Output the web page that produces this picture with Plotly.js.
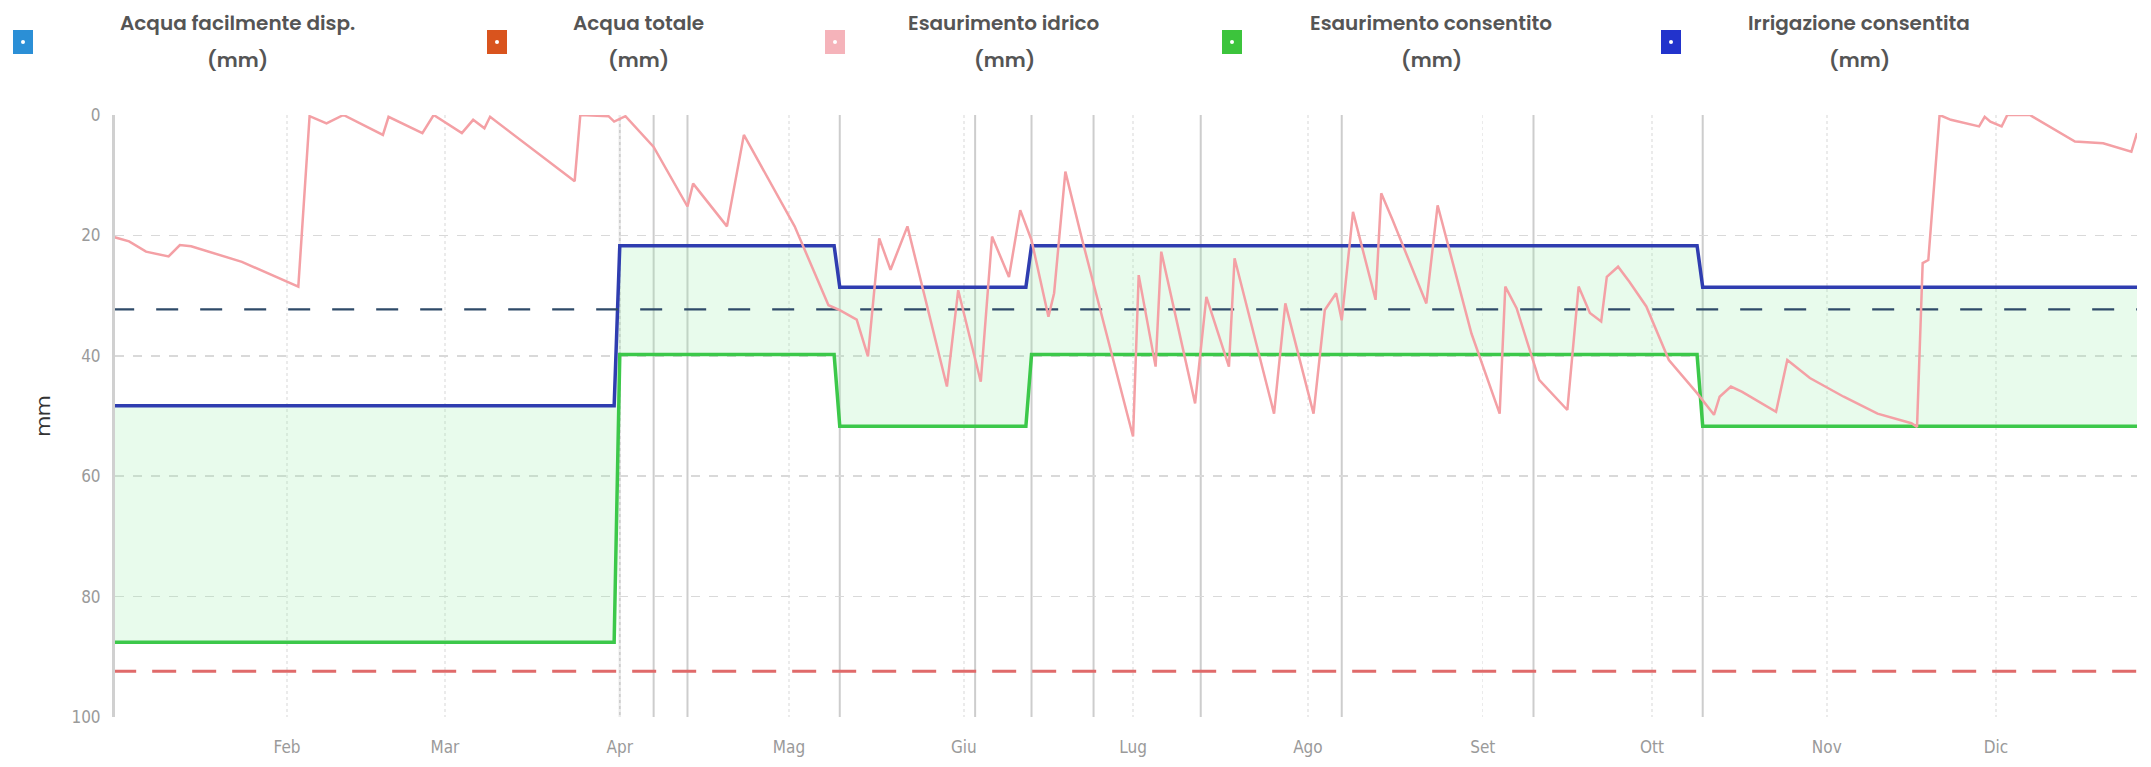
<!DOCTYPE html>
<html>
<head>
<meta charset="utf-8">
<script src="https://cdn.plot.ly/plotly-3.0.1.min.js"></script>
<style>
html,body{margin:0;padding:0;background:#ffffff;}
#chart{width:2151px;height:767px;}
</style>
</head>
<body>
<div id="chart"></div>
<script>
// ---------------- DATA ----------------
const YEAR = '2023';
const startDate = '01-01 12:00';
const endDate = '12-26';

const monthTickDates  = ['02-01','03-01','04-01','05-01','06-01','07-01','08-01','09-01','10-01','11-01','12-01'];
const monthTickLabels = ['Feb','Mar','Apr','Mag','Giu','Lug','Ago','Set','Ott','Nov','Dic'];

// Esaurimento idrico (mm) – vertices
const depletionDates = [
  '01-01','01-04','01-07','01-11','01-13','01-15','01-24','02-03','02-05','02-08',
  '02-11','02-18','02-19','02-25','02-27','03-04','03-06','03-08','03-09','03-24',
  '03-25','03-30','03-31','04-02','04-07','04-13','04-14','04-20','04-23','05-02',
  '05-08','05-10','05-13','05-15','05-17','05-19','05-22','05-29','05-31','06-04',
  '06-06','06-09','06-11','06-13','06-16','06-17','06-19','06-22','07-01','07-02',
  '07-05','07-06','07-12','07-14','07-18','07-19','07-26','07-28','08-02','08-04',
  '08-06','08-07','08-09','08-13','08-14','08-16','08-22','08-24','08-30','09-04',
  '09-05','09-07','09-11','09-16','09-18','09-20','09-22','09-23','09-25','09-27',
  '09-30','10-04','10-09','10-12','10-13','10-15','10-17','10-23','10-25','10-29',
  '11-04','11-10','11-16','11-17','11-18','11-19','11-21','11-23','11-28','11-29',
  '11-30','12-02','12-03','12-07','12-15','12-20','12-25','12-26'
];
const depletionValues = [
  20.2, 21.0, 22.7, 23.5, 21.6, 21.8, 24.4, 28.5, 0.2, 1.4,
  0.0, 3.3, 0.3, 3.0, 0.0, 3.0, 0.8, 2.2, 0.3, 11.0,
  0.0, 0.2, 1.1, 0.2, 5.3, 15.2, 11.4, 18.5, 3.3, 18.5,
  31.6, 32.4, 34.0, 40.1, 20.5, 25.7, 18.5, 45.1, 29.1, 44.3,
  20.2, 26.9, 15.8, 20.8, 33.5, 29.6, 9.4, 20.8, 53.4, 26.6,
  41.8, 22.7, 47.9, 30.2, 41.8, 23.8, 49.6, 31.3, 49.6, 32.4,
  29.6, 34.1, 16.1, 30.7, 13.0, 17.4, 31.3, 15.0, 36.3, 49.6,
  28.5, 32.1, 44.0, 49.0, 28.5, 32.9, 34.3, 26.9, 25.2, 27.7,
  31.8, 40.7, 46.2, 49.8, 46.8, 45.1, 46.0, 49.3, 40.7, 43.7,
  46.8, 49.6, 51.2, 51.8, 24.6, 24.1, 0.0, 0.8, 1.9, 0.3,
  1.1, 1.9, 0.0, 0.0, 4.4, 4.7, 6.1, 3.0
];

// crop phases (start dates) and the thresholds per phase
const phaseStartDates   = ['01-01','04-01','05-10','06-13','10-10'];
const allowedIrrigation = [48.3, 21.7, 28.6, 21.7, 28.6];   // Irrigazione consentita (mm)
const allowedDepletion  = [87.6, 39.8, 51.7, 39.8, 51.7];   // Esaurimento consentito (mm)

const readilyAvailableWater = 32.3;  // Acqua facilmente disp. (mm)
const totalAvailableWater   = 92.4;  // Acqua totale (mm)

// event markers (vertical lines)
const eventDates = ['04-01','04-07','04-13','05-10','06-03','06-13','06-24','07-13','08-07','09-10','10-10'];

// legend entries
const legendNames  = ['Acqua facilmente disp.','Acqua totale','Esaurimento idrico','Esaurimento consentito','Irrigazione consentita'];
const legendUnit   = '(mm)';
const legendColors = ['#2b8fd6','#d9541e','#f5b3ba','#3cc43c','#2233cc'];

// ---------------- HELPERS ----------------
const d = md => YEAR + '-' + md;
function prevDay(md){
  const t = new Date(d(md) + 'T00:00:00Z');
  t.setUTCDate(t.getUTCDate() - 1);
  return t.toISOString().slice(0,10);
}
function stepSeries(values){
  const xs = [], ys = [];
  for (let i = 0; i < phaseStartDates.length; i++){
    xs.push(d(phaseStartDates[i])); ys.push(values[i]);
    const end = (i + 1 < phaseStartDates.length) ? prevDay(phaseStartDates[i+1]) : d(endDate);
    xs.push(end); ys.push(values[i]);
  }
  return {xs, ys};
}

const green = stepSeries(allowedDepletion);
const blue  = stepSeries(allowedIrrigation);
const xStart = d('01-01'), xEnd = d(endDate);

const traces = [
  {
    name: 'Esaurimento consentito (mm)', type: 'scatter', mode: 'lines',
    x: green.xs, y: green.ys,
    line: {color: '#3cc84a', width: 3.5},
    hoverinfo: 'skip'
  },
  {
    name: 'Irrigazione consentita (mm)', type: 'scatter', mode: 'lines',
    x: blue.xs, y: blue.ys,
    fill: 'tonexty', fillcolor: 'rgba(150,238,170,0.22)',
    line: {color: '#2f3db0', width: 3.5},
    hoverinfo: 'skip'
  },
  {
    name: 'Acqua facilmente disp. (mm)', type: 'scatter', mode: 'lines',
    x: [xStart, xEnd], y: [readilyAvailableWater, readilyAvailableWater],
    line: {color: '#2e4a68', width: 2.2, dash: '22px,22px'},
    hoverinfo: 'skip'
  },
  {
    name: 'Acqua totale (mm)', type: 'scatter', mode: 'lines',
    x: [xStart, xEnd], y: [totalAvailableWater, totalAvailableWater],
    line: {color: '#e06a6a', width: 3, dash: '24px,16px'},
    hoverinfo: 'skip'
  },
  {
    name: 'Esaurimento idrico (mm)', type: 'scatter', mode: 'lines',
    x: depletionDates.map(d), y: depletionValues,
    line: {color: '#f4a0a5', width: 2.5},
    hoverinfo: 'skip'
  }
];

// ---------------- LAYOUT ----------------
const L = 115, T = 115, R = 14, B = 50;
const W = 2151 - L - R, H = 767 - T - B;
const px2x = px => (px - L) / W;
const px2y = py => (T + H - py) / H;

const legendSquareX = [23, 497, 835, 1232, 1671];
const legendTextX   = [237, 638, 1004, 1431, 1859];
const legendFont = {family: 'Poppins, "Open Sans", Lato, sans-serif', size: 20, color: '#555555', weight: 600};

const annotations = [];
const shapes = [];
legendNames.forEach((n, i) => {
  annotations.push({xref:'paper', yref:'paper', x: px2x(legendTextX[i]), y: px2y(23),
    text: n, showarrow:false, xanchor:'center', yanchor:'middle', font: legendFont});
  annotations.push({xref:'paper', yref:'paper', x: px2x(legendTextX[i]), y: px2y(60),
    text: legendUnit, showarrow:false, xanchor:'center', yanchor:'middle', font: legendFont});
  shapes.push({type:'rect', xref:'paper', yref:'paper', xsizemode:'pixel', ysizemode:'pixel',
    xanchor: px2x(legendSquareX[i]), yanchor: px2y(42), x0:-10, x1:10, y0:-12, y1:12,
    fillcolor: legendColors[i], line:{width:0}});
  shapes.push({type:'circle', xref:'paper', yref:'paper', xsizemode:'pixel', ysizemode:'pixel',
    xanchor: px2x(legendSquareX[i]), yanchor: px2y(42), x0:-2, x1:2, y0:-2, y1:2,
    fillcolor: '#ffffff', line:{width:0}});
});

eventDates.forEach(ed => {
  shapes.push({type:'line', xref:'x', yref:'paper', x0: d(ed), x1: d(ed), y0: 0, y1: 1,
    line:{color:'#cdcdcd', width:2}, layer:'below'});
});

const tickFont = {family: '"Liberation Sans Narrow", "DejaVu Sans Condensed", "Roboto Condensed", Roboto, sans-serif', size: 17, color: '#9a9a9a'};

const layout = {
  width: 2151, height: 767,
  margin: {l: L, r: R, t: T, b: B, pad: 0},
  paper_bgcolor: '#ffffff', plot_bgcolor: '#ffffff',
  showlegend: false,
  xaxis: {
    type: 'date',
    range: [d(startDate), xEnd],
    tickvals: monthTickDates.map(d),
    ticktext: monthTickLabels,
    tickfont: tickFont,
    showgrid: true, gridcolor: '#ebebeb', griddash: 'dot', gridwidth: 1.5,
    zeroline: false, showline: false, ticks: '',
    ticklabelstandoff: 18
  },
  yaxis: {
    range: [100, 0],
    tickvals: [0, 20, 40, 60, 80, 100],
    tickfont: tickFont,
    showgrid: true, gridcolor: '#d9d9d9', griddash: 'dash', gridwidth: 1.5,
    zeroline: false, showline: true, linecolor: '#d0d0d0', linewidth: 3,
    ticks: '', ticklabelstandoff: 8,
    title: {text: 'mm', font: {family: 'Poppins, "Open Sans", Lato, sans-serif', size: 20, color: '#333333'}, standoff: 16}
  },
  annotations: annotations,
  shapes: shapes
};

Plotly.newPlot('chart', traces, layout, {displayModeBar: false, staticPlot: true});
</script>
</body>
</html>
